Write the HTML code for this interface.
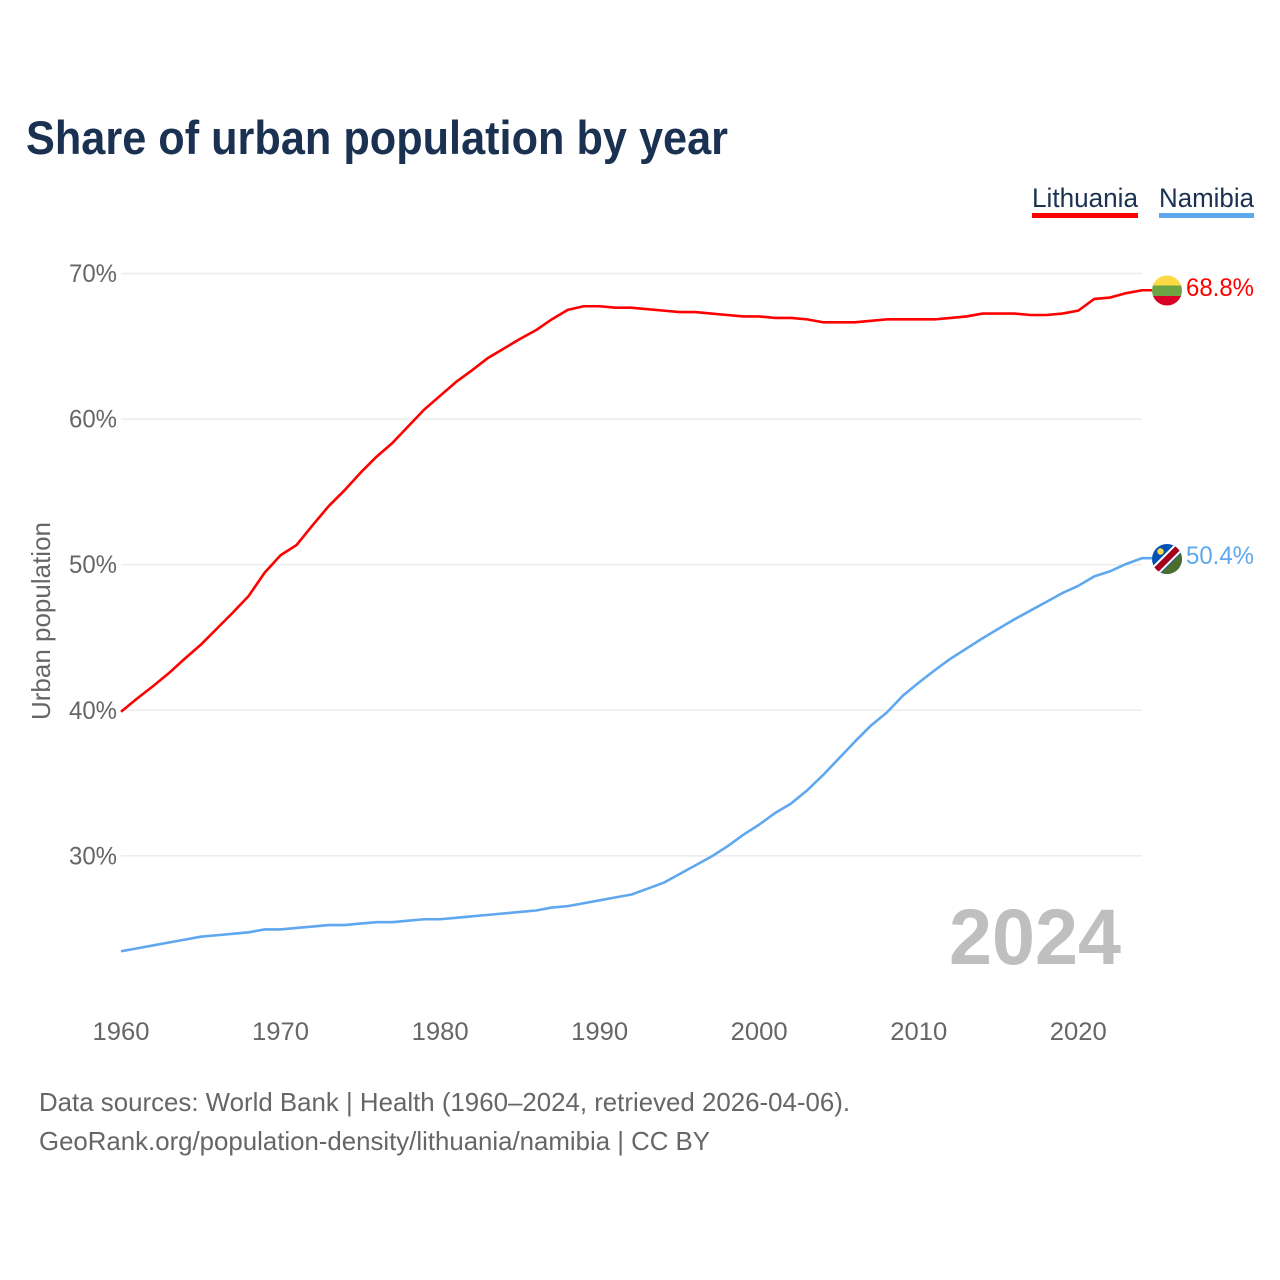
<!DOCTYPE html>
<html lang="en">
<head>
<meta charset="utf-8">
<title>Share of urban population by year</title>
<style>
html,body{margin:0;padding:0;background:#fff;width:1280px;height:1280px;overflow:hidden}
svg{display:block}
text{font-family:"Liberation Sans",sans-serif}
</style>
</head>
<body>
<svg id="chart" xmlns="http://www.w3.org/2000/svg" width="1280" height="1280" viewBox="0 0 1280 1280">
  <rect x="0" y="0" width="1280" height="1280" fill="#ffffff"/>
  <text x="26" y="154" font-size="47" font-weight="700" fill="#1a3152" textLength="702" lengthAdjust="spacingAndGlyphs">Share of urban population by year</text>

  <g id="grid"></g>
  <g id="yticks"></g>
  <g id="xticks"></g>

  <text transform="translate(50,720) rotate(-90)" font-size="26" fill="#666666" textLength="198" lengthAdjust="spacingAndGlyphs">Urban population</text>

  <text x="949" y="964" font-size="79" font-weight="700" fill="#bfbfbf" textLength="172" lengthAdjust="spacingAndGlyphs">2024</text>

  <g id="series"></g>

  <g>
    <text x="1032" y="207" font-size="27" fill="#1a3152" textLength="106" lengthAdjust="spacingAndGlyphs">Lithuania</text>
    <rect x="1032" y="213" width="106" height="5" fill="#ff0000"/>
  </g>
  <g>
    <text x="1159" y="207" font-size="27" fill="#1a3152" textLength="95" lengthAdjust="spacingAndGlyphs">Namibia</text>
    <rect x="1159" y="213" width="95" height="5" fill="#5fa8ef"/>
  </g>

  <defs>
    <clipPath id="clip-lt"><circle cx="1167" cy="290.5" r="15"/></clipPath>
    <clipPath id="clip-na"><circle cx="1167" cy="559" r="15"/></clipPath>
  </defs>
  <g clip-path="url(#clip-lt)">
    <rect x="1152" y="275" width="30" height="11" fill="#ffda44"/>
    <rect x="1152" y="285.5" width="30" height="11" fill="#6da544"/>
    <rect x="1152" y="296" width="30" height="10" fill="#d80027"/>
  </g>
  <g clip-path="url(#clip-na)">
    <rect x="1152" y="544" width="30" height="30" fill="#0052b4"/>
    <polygon points="1186,548 1186,578 1156,578" fill="#496e2d"/>
    <line x1="1152" y1="574" x2="1182" y2="544" stroke="#ffffff" stroke-width="10"/>
    <line x1="1152" y1="574" x2="1182" y2="544" stroke="#a2001d" stroke-width="6"/>
    <circle cx="1160.5" cy="551.5" r="3.2" fill="#ffda44"/>
  </g>

  <text x="1186" y="296" font-size="25" fill="#ff0000" textLength="68" lengthAdjust="spacingAndGlyphs">68.8%</text>
  <text x="1186" y="564" font-size="25" fill="#5fa8ef" textLength="68" lengthAdjust="spacingAndGlyphs">50.4%</text>

  <text x="39" y="1111" font-size="26" fill="#666666" textLength="811" lengthAdjust="spacingAndGlyphs">Data sources: World Bank | Health (1960–2024, retrieved 2026-04-06).</text>
  <text x="39" y="1150" font-size="26" fill="#666666" textLength="671" lengthAdjust="spacingAndGlyphs">GeoRank.org/population-density/lithuania/namibia | CC BY</text>
</svg>

<script>
const firstYear = 1960;
const xTickYears = [1960, 1970, 1980, 1990, 2000, 2010, 2020];
const yTickValues = [70, 60, 50, 40, 30];
const lithuaniaValues = [39.9, 40.8, 41.65, 42.55, 43.55, 44.5, 45.6, 46.7, 47.85, 49.45, 50.65, 51.35, 52.7, 54.0, 55.1, 56.3, 57.4, 58.35, 59.5, 60.65, 61.6, 62.55, 63.35, 64.2, 64.85, 65.5, 66.1, 66.85, 67.5, 67.75, 67.75, 67.65, 67.65, 67.55, 67.45, 67.35, 67.35, 67.25, 67.15, 67.05, 67.05, 66.95, 66.95, 66.85, 66.65, 66.65, 66.65, 66.75, 66.85, 66.85, 66.85, 66.85, 66.95, 67.05, 67.25, 67.25, 67.25, 67.15, 67.15, 67.25, 67.45, 68.25, 68.35, 68.65, 68.85];
const namibiaValues = [23.45, 23.65, 23.85, 24.05, 24.25, 24.45, 24.55, 24.65, 24.75, 24.95, 24.95, 25.05, 25.15, 25.25, 25.25, 25.35, 25.45, 25.45, 25.55, 25.65, 25.65, 25.75, 25.85, 25.95, 26.05, 26.15, 26.25, 26.45, 26.55, 26.75, 26.95, 27.15, 27.35, 27.75, 28.15, 28.75, 29.35, 29.95, 30.65, 31.45, 32.15, 32.95, 33.6, 34.5, 35.55, 36.7, 37.85, 38.95, 39.85, 41.0, 41.9, 42.75, 43.55, 44.25, 44.95, 45.6, 46.25, 46.85, 47.45, 48.05, 48.55, 49.2, 49.55, 50.05, 50.45];

const svgNS = 'http://www.w3.org/2000/svg';
const xScale = function (year) { return 121 + (year - 1960) * 15.955; };
const yScale = function (value) { return 273.5 + (70 - value) * 14.56; };

const gridGroup = document.getElementById('grid');
const yTickGroup = document.getElementById('yticks');
const xTickGroup = document.getElementById('xticks');
const seriesGroup = document.getElementById('series');

yTickValues.forEach(function (value) {
  const line = document.createElementNS(svgNS, 'line');
  
  
  line.setAttribute('x1', 121);
  line.setAttribute('x2', 1142);
  line.setAttribute('y1', yScale(value));
  line.setAttribute('y2', yScale(value));
  line.setAttribute('stroke', '#ececec');
  line.setAttribute('stroke-width', '1.5');
  gridGroup.appendChild(line);

  const label = document.createElementNS(svgNS, 'text');
  
  
  label.setAttribute('x', 69);
  label.setAttribute('y', yScale(value) + 8.5);
  label.setAttribute('font-size', '25');
  label.setAttribute('fill', '#666666');
  label.setAttribute('textLength', '48');
  label.setAttribute('lengthAdjust', 'spacingAndGlyphs');
  label.textContent = value + '%';
  yTickGroup.appendChild(label);
});

xTickYears.forEach(function (year) {
  const label = document.createElementNS(svgNS, 'text');
  
  
  label.setAttribute('x', xScale(year) - 28.5);
  label.setAttribute('y', 1040);
  label.setAttribute('font-size', '25');
  label.setAttribute('fill', '#666666');
  label.setAttribute('textLength', '57');
  label.setAttribute('lengthAdjust', 'spacingAndGlyphs');
  label.textContent = String(year);
  xTickGroup.appendChild(label);
});

function linePoints(values) {
  const points = values.map(function (value, index) {
    return xScale(firstYear + index).toFixed(2) + ',' + yScale(value).toFixed(2);
  });
  const last = values[values.length - 1];
  points.push('1152,' + yScale(last).toFixed(2));
  return points.join(' ');
}

const lithuaniaLine = document.createElementNS(svgNS, 'polyline');


lithuaniaLine.setAttribute('points', linePoints(lithuaniaValues));
lithuaniaLine.setAttribute('fill', 'none');
lithuaniaLine.setAttribute('stroke', '#ff0000');
lithuaniaLine.setAttribute('stroke-width', '2.6');
lithuaniaLine.setAttribute('stroke-linejoin', 'round');
seriesGroup.appendChild(lithuaniaLine);

const namibiaLine = document.createElementNS(svgNS, 'polyline');


namibiaLine.setAttribute('points', linePoints(namibiaValues));
namibiaLine.setAttribute('fill', 'none');
namibiaLine.setAttribute('stroke', '#5fa8ef');
namibiaLine.setAttribute('stroke-width', '2.6');
namibiaLine.setAttribute('stroke-linejoin', 'round');
seriesGroup.appendChild(namibiaLine);
</script>
</body>
</html>
